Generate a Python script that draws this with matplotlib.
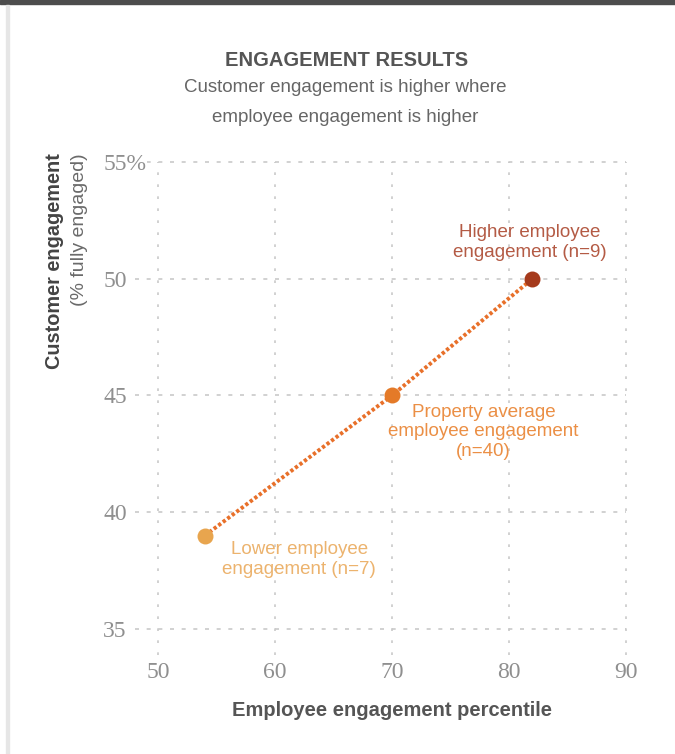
import matplotlib
matplotlib.use("Agg")
import matplotlib.pyplot as plt
from matplotlib.patches import Rectangle

# ---- data ----
emp_pct = [54, 70, 82]
cust_pct = [39, 45, 50]
point_labels = ["Lower employee\nengagement (n=7)",
                "Property average\nemployee engagement\n(n=40)",
                "Higher employee\nengagement (n=9)"]
point_colors = ["#e8a54e", "#e47a28", "#a53a1c"]
label_colors = ["#ecb36e", "#eb8f45", "#b45b45"]
label_offsets = [(68, -17), (66, -26), (-2, 26)]
x_ticks = [50, 60, 70, 80, 90]
y_ticks = [35, 40, 45, 50, 55]
y_ticklabels = ["35", "40", "45", "50", "55%"]

W, H = 675, 754
fig = plt.figure(figsize=(W / 100, H / 100), dpi=100)
fig.patch.set_facecolor("white")

# frame decorations
fig.patches.append(Rectangle((0, 1 - 4 / H), 1, 4 / H, transform=fig.transFigure,
                             color="#4d4d4d", zorder=0))
fig.patches.append(Rectangle((6 / W, 0), 3 / W, 1 - 5 / H, transform=fig.transFigure,
                             color="#e6e6e6", zorder=0))

ax_l, ax_r = 134.6, 627.2
ax_t, ax_b = 160.8, 654.7
ax = fig.add_axes([ax_l / W, 1 - ax_b / H, (ax_r - ax_l) / W, (ax_b - ax_t) / H])
ax.set_xlim(48, 90.1)
ax.set_ylim(33.9, 55.05)
for s in ax.spines.values():
    s.set_visible(False)

grid_c = "#c9c9c9"
ax.hlines(y_ticks, 48, 90, colors=grid_c, linewidth=1.2,
          linestyles=[(0, (2.4, 4.6))], zorder=1)
ax.vlines(x_ticks, 33.9, 55, colors=grid_c, linewidth=1.2,
          linestyles=[(0, (1.6, 5.6))], zorder=1)

ax.plot(emp_pct, cust_pct, color="#e8702a", linewidth=2.8,
        linestyle=(0, (0.85, 0.6)), zorder=3)
for x, y, c, lab, lc, off in zip(emp_pct, cust_pct, point_colors, point_labels,
                                 label_colors, label_offsets):
    ax.plot([x], [y], "o", markersize=11.5, color=c, markeredgewidth=0, zorder=4)
    ax.annotate(lab, (x, y), xytext=off, textcoords="offset points",
                ha="center", va="center", color=lc, fontsize=13.5,
                family="Liberation Sans", linespacing=1.2)

tick_font = dict(family="Liberation Serif", size=17, color="#8f8f8f")
ax.set_xticks(x_ticks)
ax.set_xticklabels([str(v) for v in x_ticks], **tick_font)
ax.set_yticks(y_ticks)
ax.set_yticklabels(y_ticklabels, ha="left", **tick_font,
                   bbox=dict(facecolor="white", edgecolor="none", pad=1))
ax.tick_params(axis="both", length=0)
ax.tick_params(axis="y", pad=22.7)
ax.tick_params(axis="x", pad=5)

fig.text(392 / W, 1 - 710 / H, "Employee engagement percentile", ha="center", va="center",
         fontsize=14.5, fontweight="bold", color="#555555", family="Liberation Sans")
fig.text(55 / W, 1 - 153 / H, "Customer engagement", rotation=90, ha="center", va="top",
         fontsize=14.3, fontweight="bold", color="#444444", family="Liberation Sans")
fig.text(79 / W, 1 - 153 / H, "(% fully engaged)", rotation=90, ha="center", va="top",
         fontsize=14, color="#6a6a6a", family="Liberation Sans")

fig.text(347 / W, 1 - 60 / H, "ENGAGEMENT RESULTS", ha="center", va="center",
         fontsize=14.5, fontweight="bold", color="#555555", family="Liberation Sans")
fig.text(345 / W, 1 - 88 / H, "Customer engagement is higher where", ha="center",
         va="center", fontsize=13.5, color="#666666", family="Liberation Sans")
fig.text(345 / W, 1 - 117 / H, "employee engagement is higher", ha="center",
         va="center", fontsize=13.5, color="#666666", family="Liberation Sans")

fig.savefig("out.png", dpi=100, facecolor="white")
